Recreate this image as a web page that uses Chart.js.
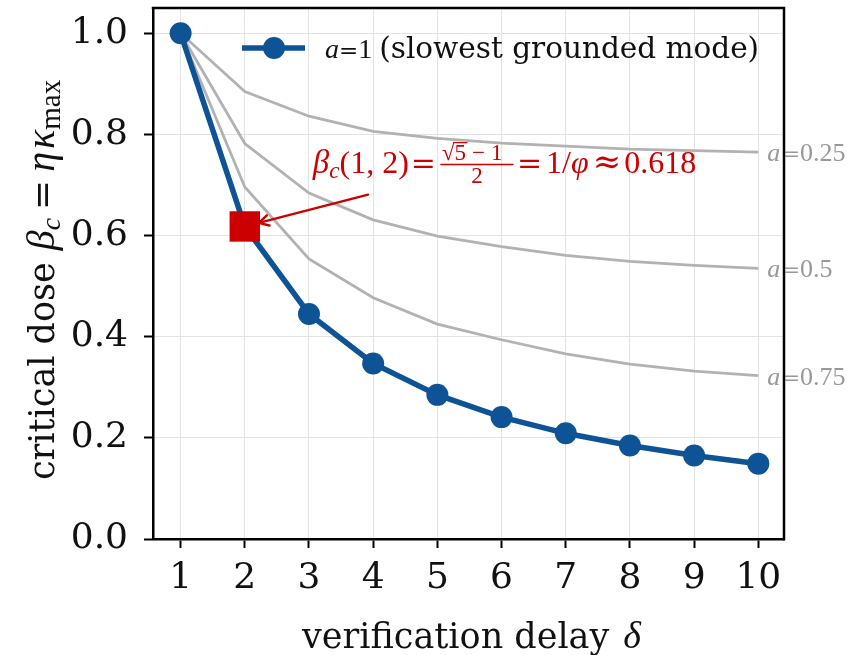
<!DOCTYPE html>
<html><head><meta charset="utf-8">
<script src="https://cdn.jsdelivr.net/npm/chart.js@4/dist/chart.umd.min.js"></script>
<style>html,body{margin:0;padding:0;background:#fff}#wrap{width:859px;height:655px;position:relative}</style>
</head><body><div id="wrap"><canvas id="c" width="859" height="655"></canvas></div>
<script>
// ---- data ----
const delays   = [1, 2, 3, 4, 5, 6, 7, 8, 9, 10];
const betaA1   = [1.000, 0.618, 0.445, 0.347, 0.285, 0.241, 0.209, 0.185, 0.165, 0.149];
const betaA075 = [1.000, 0.696, 0.554, 0.477, 0.425, 0.394, 0.366, 0.346, 0.332, 0.323];
const betaA05  = [1.000, 0.782, 0.684, 0.631, 0.599, 0.578, 0.561, 0.549, 0.541, 0.535];
const betaA025 = [1.000, 0.885, 0.836, 0.806, 0.792, 0.783, 0.777, 0.771, 0.768, 0.765];
const grayLabels = ['0.25', '0.5', '0.75'];
const xTicks = [1, 2, 3, 4, 5, 6, 7, 8, 9, 10];
const yTicks = [0.0, 0.2, 0.4, 0.6, 0.8, 1.0];
const goldenPoint = {x: 2, y: 0.618};

const BLUE = '#0d5396', RED = '#cc0000', GRAY = '#b2b2b2', GRAYTXT = '#999999';
const SERIF = '"DejaVu Serif", serif';
const MATH = '"Liberation Serif", serif';

function pts(vals){ return delays.map((d,i)=>({x:d, y:vals[i]})); }

function rich(ctx, parts, x, y, align){
  let w = 0;
  for (const p of parts){
    if (p.frac){ p.w = p.frac.w; }
    else { ctx.font = p.f; p.w = ctx.measureText(p.t).width; }
    p.w += (p.sp||0) + (p.pre||0);
    w += p.w;
  }
  let cx = align==='center' ? x - w/2 : (align==='right' ? x - w : x);
  for (const p of parts){
    if (p.frac){ p.frac.draw(ctx, cx + (p.pre||0), y); }
    else { ctx.font = p.f; ctx.fillText(p.t, cx + (p.pre||0), y + (p.dy||0)); }
    cx += p.w;
  }
  return w;
}

const decor = {
  id: 'decor',
  afterDatasetsDraw(chart){
    const {ctx, chartArea: a, scales: {x, y}} = chart;
    ctx.save();
    ctx.textBaseline = 'alphabetic';
    ctx.textAlign = 'left';

    // right-hand labels for gray curves
    const grays = [betaA025, betaA05, betaA075];
    ctx.fillStyle = GRAYTXT;
    grays.forEach((vals, i) => {
      const lx = x.getPixelForValue(delays[delays.length-1]) + 9;
      const ly = y.getPixelForValue(vals[vals.length-1]) + 9;
      rich(ctx, [
        {t:'a', f:'italic 26px '+MATH},
        {t:'=', f:'20px '+SERIF, pre:3, sp:0},
        {t:grayLabels[i], f:'26px '+MATH}
      ], lx, ly, 'left');
    });

    // frame top / right
    ctx.strokeStyle = '#000'; ctx.lineWidth = 2.5;
    ctx.beginPath();
    ctx.moveTo(a.left - 1.25, a.top); ctx.lineTo(a.right, a.top); ctx.lineTo(a.right, a.bottom + 1.25);
    ctx.stroke();

    // arrow
    const px = x.getPixelForValue(goldenPoint.x), py = y.getPixelForValue(goldenPoint.y);
    const tx = x.getPixelForValue(3.92), ty = y.getPixelForValue(0.681);
    const dx = px - tx, dy = py - ty, L = Math.hypot(dx, dy);
    const ux = dx / L, uy = dy / L;
    const hx = px - ux * 14.5, hy = py - uy * 14.5;
    ctx.strokeStyle = RED; ctx.lineWidth = 2.4; ctx.lineCap = 'round';
    ctx.beginPath(); ctx.moveTo(tx, ty); ctx.lineTo(hx, hy); ctx.stroke();
    const ang = Math.atan2(uy, ux), hl = 11, ha = 0.5;
    ctx.beginPath();
    ctx.moveTo(hx - hl*Math.cos(ang - ha), hy - hl*Math.sin(ang - ha));
    ctx.lineTo(hx, hy);
    ctx.lineTo(hx - hl*Math.cos(ang + ha), hy - hl*Math.sin(ang + ha));
    ctx.stroke();

    // annotation text
    ctx.fillStyle = RED;
    const ax = x.getPixelForValue(3.06), ay = y.getPixelForValue(0.7246);
    const frac = {
      w: 72,
      draw(c, fx, by){
        c.save();
        c.fillStyle = RED; c.strokeStyle = RED;
        const barY = by - 8;
        c.lineWidth = 1.4;
        c.beginPath(); c.moveTo(fx, barY); c.lineTo(fx + 72, barY); c.stroke();
        // numerator: sqrt5 - 1
        c.font = '23px ' + MATH;
        const nb = barY - 5;
        c.fillText('\u221A', fx + 1, nb);
        const sw = c.measureText('\u221A').width;
        c.fillText('5', fx + 1 + sw, nb);
        const fw = c.measureText('5').width;
        c.lineWidth = 1.2;
        c.beginPath(); c.moveTo(fx + 1 + sw - 1, nb - 17); c.lineTo(fx + 1 + sw + fw + 1, nb - 17); c.stroke();
        c.fillText('\u2212', fx + 1 + sw + fw + 6, nb);
        const mw = c.measureText('\u2212').width;
        c.fillText('1', fx + 1 + sw + fw + 12 + mw, nb);
        // denominator
        const dw = c.measureText('2').width;
        c.fillText('2', fx + 36 - dw/2, barY + 18);
        c.restore();
      }
    };
    rich(ctx, [
      {t:'\u03B2', f:'italic 33px '+MATH},
      {t:'c', f:'italic 23px '+MATH, dy:5},
      {t:'(1, 2)', f:'32px '+MATH, sp:2},
      {t:'=', f:'30px '+SERIF},
      {frac: frac, pre:5, sp:4},
      {t:'=', f:'30px '+SERIF, sp:4},
      {t:'1/', f:'32px '+MATH},
      {t:'\u03C6', f:'italic 32px '+MATH, sp:4},
      {t:'\u2248', f:'34px '+SERIF, sp:3},
      {t:'0.618', f:'32px '+MATH}
    ], ax, ay, 'left');

    // legend
    const lgY = a.top + 40;
    ctx.strokeStyle = BLUE; ctx.lineWidth = 5.5; ctx.lineCap = 'butt';
    ctx.beginPath(); ctx.moveTo(a.left + 89, lgY); ctx.lineTo(a.left + 152, lgY); ctx.stroke();
    ctx.fillStyle = BLUE;
    ctx.beginPath(); ctx.arc(a.left + 121, lgY, 11, 0, Math.PI*2); ctx.fill();
    ctx.fillStyle = '#111';
    rich(ctx, [
      {t:'a', f:'italic 28px '+MATH},
      {t:'=', f:'23px '+SERIF},
      {t:'1', f:'28px '+MATH, sp:7},
      {t:'(slowest grounded mode)', f:'29.5px '+SERIF}
    ], a.left + 172, lgY + 10, 'left');

    // x title
    ctx.fillStyle = '#111';
    rich(ctx, [
      {t:'verification delay', f:'35px '+SERIF, sp:14},
      {t:'\u03B4', f:'italic 38px '+MATH}
    ], (a.left + a.right)/2 + 3, 648, 'center');

    // y title
    ctx.save();
    ctx.translate(54, 0);
    ctx.rotate(-Math.PI/2);
    rich(ctx, [
      {t:'critical dose', f:'35px '+SERIF, sp:12},
      {t:'\u03B2', f:'italic 40px '+MATH},
      {t:'c', f:'italic 28px '+MATH, dy:6, sp:8},
      {t:'=', f:'36px '+SERIF, sp:8},
      {t:'\u03B7', f:'italic 40px '+MATH, sp:3},
      {t:'\u03BA', f:'italic 40px '+MATH},
      {t:'max', f:'29px '+MATH, dy:6}
    ], -480, 0, 'left');
    ctx.restore();
    ctx.restore();
  }
};

new Chart(document.getElementById('c'), {
  type: 'line',
  data: {
    datasets: [
      {label:'golden', data:[goldenPoint], showLine:false, pointStyle:'rect', pointRadius:21.5,
       pointBackgroundColor:RED, backgroundColor:RED, pointBorderWidth:0, borderColor:RED, order:0},
      {label:'a = 1 (slowest grounded mode)', data:pts(betaA1), borderColor:BLUE, borderWidth:5.5,
       pointRadius:11, pointBackgroundColor:BLUE, pointBorderWidth:0, tension:0, order:1},
      {label:'a = 0.75', data:pts(betaA075), borderColor:GRAY, borderWidth:2.8, pointRadius:0, tension:0, order:2},
      {label:'a = 0.5', data:pts(betaA05), borderColor:GRAY, borderWidth:2.8, pointRadius:0, tension:0, order:3},
      {label:'a = 0.25', data:pts(betaA025), borderColor:GRAY, borderWidth:2.8, pointRadius:0, tension:0, order:4}
    ]
  },
  options: {
    responsive: false,
    animation: false,
    layout: {autoPadding: false, padding: {left:0, top:8, right:75, bottom:0}},
    plugins: {legend:{display:false}, tooltip:{enabled:false}},
    scales: {
      x: {
        type:'linear', min:0.57, max:10.4,
        afterBuildTicks: s => { s.ticks = xTicks.map(v => ({value:v})); },
        afterFit: s => { s.height = 116; s.paddingLeft = 0; s.paddingRight = 0; },
        grid: {color:'#e3e3e3', lineWidth:1, tickLength:9, tickColor:'#000', tickWidth:2},
        border: {color:'#000', width:2.5},
        ticks: {font:{family:'DejaVu Serif', size:36}, color:'#111', padding:9, maxRotation:0, autoSkip:false,
                callback: v => String(v)}
      },
      y: {
        type:'linear', min:0, max:1.05,
        afterBuildTicks: s => { s.ticks = yTicks.map(v => ({value:v})); },
        afterFit: s => { s.width = 153; s.paddingTop = 0; s.paddingBottom = 0; },
        grid: {color:'#e3e3e3', lineWidth:1, tickLength:9, tickColor:'#000', tickWidth:2},
        border: {color:'#000', width:2.5},
        ticks: {font:{family:'DejaVu Serif', size:36}, color:'#111', padding:16, autoSkip:false,
                callback: v => v.toFixed(1)}
      }
    }
  },
  plugins: [decor]
});
</script>
</body></html>
